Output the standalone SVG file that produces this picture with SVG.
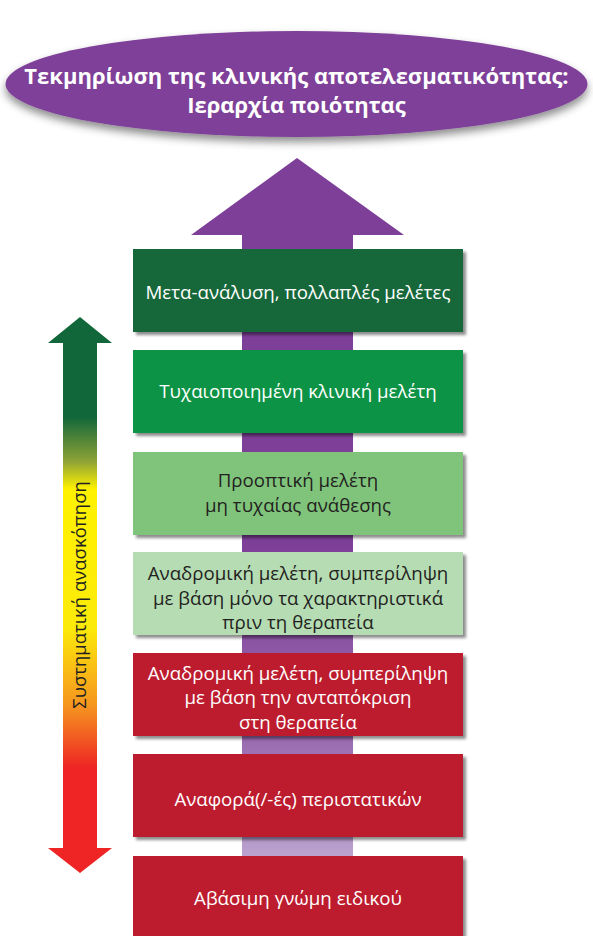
<svg xmlns="http://www.w3.org/2000/svg" width="593" height="936" viewBox="0 0 593 936">
<defs>
<linearGradient id="shaft" gradientUnits="userSpaceOnUse" x1="0" y1="158" x2="0" y2="936">
<stop offset="0" stop-color="#7e3f98"/>
<stop offset="0.5" stop-color="#7e3f98"/>
<stop offset="0.75" stop-color="#9a6cb0"/>
<stop offset="0.9" stop-color="#bba3cf"/>
<stop offset="1" stop-color="#c6b0d8"/>
</linearGradient>
<linearGradient id="sr" gradientUnits="userSpaceOnUse" x1="0" y1="317" x2="0" y2="873">
<stop offset="0" stop-color="#12673a"/>
<stop offset="0.18" stop-color="#12673a"/>
<stop offset="0.26" stop-color="#8fa336"/>
<stop offset="0.31" stop-color="#fff200"/>
<stop offset="0.56" stop-color="#fcea0a"/>
<stop offset="0.70" stop-color="#f6941f"/>
<stop offset="0.81" stop-color="#ee2524"/>
<stop offset="1" stop-color="#ee2524"/>
</linearGradient>
<filter id="sh" x="-10%" y="-10%" width="125%" height="130%">
<feDropShadow dx="3" dy="3" stdDeviation="1.5" flood-color="#000" flood-opacity="0.45"/>
</filter>
<filter id="esh" x="-10%" y="-20%" width="120%" height="150%">
<feDropShadow dx="0" dy="5" stdDeviation="4" flood-color="#000" flood-opacity="0.45"/>
</filter>
</defs>
<style>
text{font-family:"Open Sans","Noto Sans","DejaVu Sans",sans-serif;text-anchor:middle}
.t{font-size:18.7px;fill:#ffffff}
.d{font-size:18.7px;fill:#231f20}
.title{font-size:22px;font-weight:bold;fill:#ffffff}
.box{filter:url(#sh)}
</style>
<rect width="593" height="936" fill="#ffffff"/>
<g id="title">
<ellipse cx="296.5" cy="84" rx="291" ry="53" fill="#7e3f98" filter="url(#esh)"/>
<text class="title" x="296.5" y="84">Τεκμηρίωση της κλινικής αποτελεσματικότητας:</text>
<text class="title" x="296.5" y="113">Ιεραρχία ποιότητας</text>
</g>
<g id="connectors">
<polygon id="quality-arrow" points="297,158 404,235 353,235 353,936 242,936 242,235 191,235" fill="url(#shaft)"/>
<polygon id="sr-arrow" points="80,317 112,343 97,343 97,848 112,848 80,873 48,848 63,848 63,343 48,343" fill="url(#sr)"/>
<text transform="translate(86,595) rotate(-90)" style="font-size:18.5px;fill:#231f20">Συστηματική ανασκόπηση</text>
</g>
<g id="n1"><rect class="box" x="133" y="249" width="330" height="83" fill="#12673a"/><text class="t" x="298" y="299">Μετα-ανάλυση, πολλαπλές μελέτες</text></g>
<g id="n2"><rect class="box" x="133" y="350" width="330" height="83" fill="#0e9345"/><text class="t" x="298" y="398">Τυχαιοποιημένη κλινική μελέτη</text></g>
<g id="n3"><rect class="box" x="133" y="452" width="330" height="83" fill="#80c47c"/><text class="d" x="298" y="487">Προοπτική μελέτη</text><text class="d" x="298" y="512">μη τυχαίας ανάθεσης</text></g>
<g id="n4"><rect class="box" x="133" y="552" width="330" height="83" fill="#b5dcb3"/><text class="d" x="298" y="580">Αναδρομική μελέτη, συμπερίληψη</text><text class="d" x="298" y="605">με βάση μόνο τα χαρακτηριστικά</text><text class="d" x="298" y="629">πριν τη θεραπεία</text></g>
<g id="n5"><rect class="box" x="133" y="653" width="330" height="83" fill="#bd1e2d"/><text class="t" x="298" y="680">Αναδρομική μελέτη, συμπερίληψη</text><text class="t" x="298" y="704">με βάση την ανταπόκριση</text><text class="t" x="298" y="729">στη θεραπεία</text></g>
<g id="n6"><rect class="box" x="133" y="754" width="330" height="83" fill="#bd1e2d"/><text class="t" x="298" y="806">Αναφορά(/-ές) περιστατικών</text></g>
<g id="n7"><rect class="box" x="133" y="856" width="330" height="90" fill="#bd1e2d"/><text class="t" x="298" y="905">Αβάσιμη γνώμη ειδικού</text></g>
</svg>
